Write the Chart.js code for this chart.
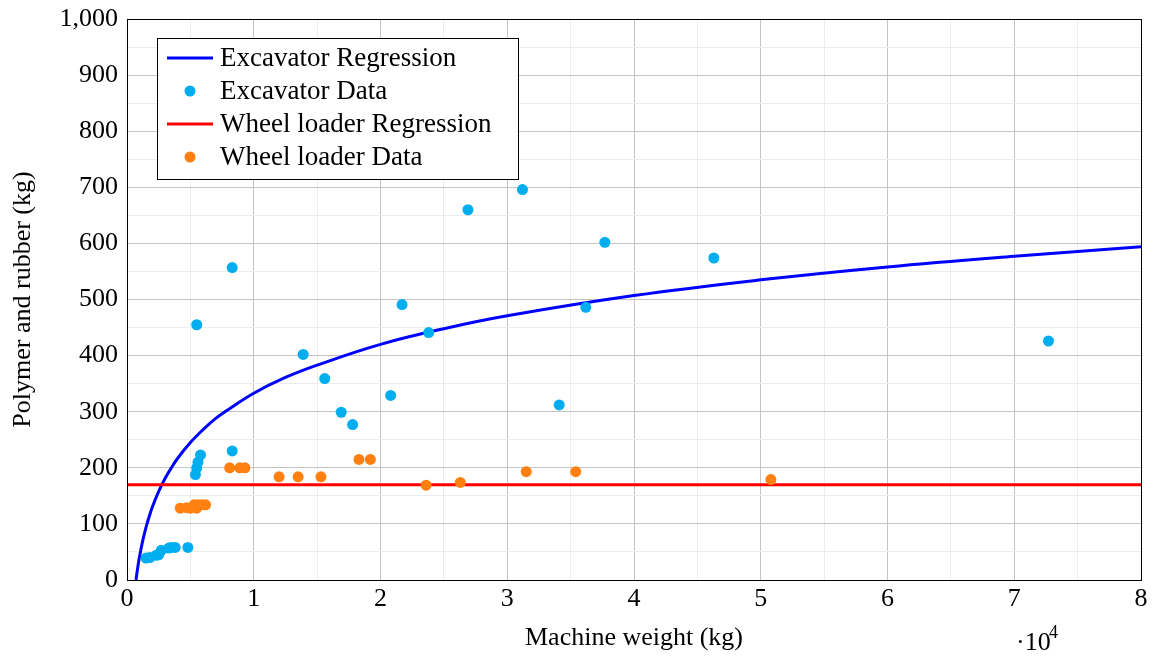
<!DOCTYPE html>
<html>
<head>
<meta charset="utf-8">
<script src="https://cdn.jsdelivr.net/npm/chart.js@4.4.1/dist/chart.umd.min.js"></script>
<style>
  html, body { margin: 0; padding: 0; background: #fff; }
</style>
</head>
<body>
<canvas id="chart" width="1156" height="657"></canvas>
<script>
// Excavator measurements (machine weight kg, polymer + rubber kg)
const excavatorWeight = [1500, 1800, 2300, 2500, 2700, 3300, 3500, 3800, 4800,
    5400, 5500, 5600, 5800, 5500, 8300, 8300, 13900, 15600, 16900, 17800,
    20800, 21700, 23800, 26900, 31200, 34100, 36200, 37700, 46300, 72700];
const excavatorMass = [39, 40, 44, 45, 53, 57, 58, 58, 58,
    188, 200, 210, 223, 455, 230, 557, 402, 359, 299, 277,
    329, 491, 441, 660, 696, 312, 486, 602, 574, 426];

// Excavator regression curve
const excRegWeight = [710, 800, 900, 1000, 1250, 1500, 1750, 2000, 2500, 3000, 3500, 4000,
    5000, 6000, 7000, 8000, 10000, 12500, 15000, 20000, 25000, 30000,
    40000, 50000, 60000, 70000, 80000];
const excRegMass = [0, 15, 30, 43, 71, 94, 113, 130, 158, 181, 200, 217,
    245, 268, 288, 304, 333, 361, 383, 420, 448, 471,
    507, 535, 558, 577, 594];

// Wheel loader measurements
const loaderWeight = [4200, 4700, 5000, 5300, 5500, 5600, 5900, 6200,
    8100, 8900, 9300, 12000, 13500, 15300, 18300, 19200,
    23600, 26300, 31500, 35400, 50800];
const loaderMass = [128, 129, 128, 134, 128, 134, 134, 134,
    200, 200, 200, 184, 184, 184, 215, 215,
    169, 174, 193, 193, 179];

// Wheel loader regression (flat)
const loaderRegWeight = [0, 80000];
const loaderRegMass = [170, 170];

const zip = (xs, ys) => xs.map((x, i) => ({ x: x, y: ys[i] }));

const FONT = 'Liberation Serif';
const tickFont = { family: FONT, size: 26 };

// Axis box, legend and the x10^4 multiplier
const decorations = {
    id: 'decorations',
    afterDatasetsDraw(chart) {
        const { ctx, chartArea: a } = chart;
        ctx.save();
        ctx.strokeStyle = '#000';
        ctx.lineWidth = 1;
        ctx.strokeRect(Math.round(a.left) + 0.5, Math.round(a.top) + 0.5,
            Math.round(a.right - a.left), Math.round(a.bottom - a.top));
        ctx.restore();
    },
    afterDraw(chart) {
        const ctx = chart.ctx;
        ctx.save();

        // legend box
        ctx.fillStyle = '#fff';
        ctx.fillRect(157, 38, 361, 141);
        ctx.strokeStyle = '#000';
        ctx.lineWidth = 1;
        ctx.strokeRect(157.5, 38.5, 361, 141);

        ctx.font = '27px ' + FONT;
        ctx.textBaseline = 'middle';
        ctx.textAlign = 'left';
        chart.data.datasets.forEach((ds, i) => {
            const y = 58 + i * 33;
            if (ds.showLine) {
                ctx.strokeStyle = ds.borderColor;
                ctx.lineWidth = 3;
                ctx.beginPath();
                ctx.moveTo(167, y);
                ctx.lineTo(213, y);
                ctx.stroke();
            } else {
                ctx.fillStyle = ds.backgroundColor;
                ctx.beginPath();
                ctx.arc(190, y, 5.5, 0, Math.PI * 2);
                ctx.fill();
            }
            ctx.fillStyle = '#000';
            ctx.fillText(ds.label, 220, y + 1);
        });

        // multiplier under the x axis
        ctx.font = '26px ' + FONT;
        ctx.textBaseline = 'alphabetic';
        ctx.fillText('·10', 1016, 650);
        ctx.font = '18px ' + FONT;
        ctx.fillText('4', 1049, 638);
        ctx.restore();
    }
};

new Chart(document.getElementById('chart'), {
    type: 'scatter',
    data: {
        datasets: [
            {
                label: 'Excavator Regression',
                data: zip(excRegWeight, excRegMass),
                showLine: true,
                borderColor: '#0000ff',
                backgroundColor: '#0000ff',
                borderWidth: 3,
                pointRadius: 0,
                tension: 0.4,
                order: 4
            },
            {
                label: 'Excavator Data',
                data: zip(excavatorWeight, excavatorMass),
                backgroundColor: '#00aeef',
                borderWidth: 0,
                pointRadius: 5.5,
                order: 3
            },
            {
                label: 'Wheel loader Regression',
                data: zip(loaderRegWeight, loaderRegMass),
                showLine: true,
                borderColor: '#ff0000',
                backgroundColor: '#ff0000',
                borderWidth: 3,
                pointRadius: 0,
                order: 2
            },
            {
                label: 'Wheel loader Data',
                data: zip(loaderWeight, loaderMass),
                backgroundColor: '#ff8010',
                borderWidth: 0,
                pointRadius: 5.5,
                order: 1
            }
        ]
    },
    options: {
        responsive: false,
        animation: false,
        devicePixelRatio: 1,
        events: [],
        layout: { padding: { left: 0, right: 15, top: 19, bottom: 0 } },
        plugins: {
            legend: { display: false },
            tooltip: { enabled: false }
        },
        scales: {
            x: {
                type: 'linear',
                min: 0,
                max: 80000,
                afterFit: (s) => { s.height = 77; },
                ticks: {
                    stepSize: 5000,
                    autoSkip: false,
                    maxRotation: 0,
                    color: '#000',
                    font: tickFont,
                    padding: 4,
                    callback: (v) => (v % 10000 === 0 ? String(v / 10000) : '')
                },
                grid: {
                    drawTicks: false,
                    color: (c) => (c.tick && c.tick.value % 10000 === 0 ? '#c4c4c4' : '#ececec')
                },
                border: { display: false },
                title: {
                    display: true,
                    text: 'Machine weight (kg)',
                    color: '#000',
                    font: tickFont,
                    padding: { top: 0, bottom: 3 }
                }
            },
            y: {
                type: 'linear',
                min: 0,
                max: 1000,
                afterFit: (s) => {
                    s.width = 127;
                    s.paddingTop = 0;
                    s.paddingBottom = 0;
                },
                ticks: {
                    stepSize: 50,
                    autoSkip: false,
                    color: '#000',
                    font: tickFont,
                    padding: 9,
                    callback: (v) => (v % 100 === 0 ? v.toLocaleString('en-US') : '')
                },
                grid: {
                    drawTicks: false,
                    color: (c) => (c.tick && c.tick.value % 100 === 0 ? '#c4c4c4' : '#ececec')
                },
                border: { display: false },
                title: {
                    display: true,
                    text: 'Polymer and rubber (kg)',
                    color: '#000',
                    font: tickFont,
                    padding: { top: 8, bottom: 0 }
                }
            }
        }
    },
    plugins: [decorations]
});
</script>
</body>
</html>
